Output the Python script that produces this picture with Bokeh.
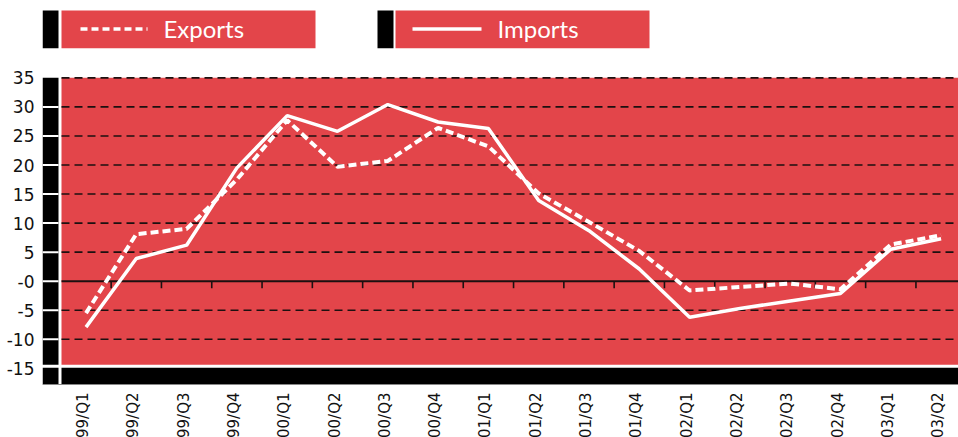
import math
from bokeh.plotting import figure
from bokeh.models import Range1d, FixedTicker
from bokeh.embed import file_html
from bokeh.resources import INLINE
from bokeh.core.properties import value

# ---------------- data ----------------
quarters = ["99/Q1", "99/Q2", "99/Q3", "99/Q4", "00/Q1", "00/Q2", "00/Q3", "00/Q4",
            "01/Q1", "01/Q2", "01/Q3", "01/Q4", "02/Q1", "02/Q2", "02/Q3", "02/Q4",
            "03/Q1", "03/Q2"]
exports = [-5.5, 8.1, 9.0, 17.5, 27.7, 19.7, 20.7, 26.4, 23.2, 15.1, 10.2, 5.2,
           -1.6, -1.0, -0.4, -1.4, 6.3, 7.9]
imports = [-7.9, 3.9, 6.2, 19.5, 28.5, 25.8, 30.4, 27.4, 26.3, 13.9, 8.7, 2.1,
           -6.2, -4.7, -3.4, -2.1, 5.5, 7.3]
series_names = ["Exports", "Imports"]
y_ticks = [35, 30, 25, 20, 15, 10, 5, 0, -5, -10, -15]
y_tick_labels = ["35", "30", "25", "20", "15", "10", "5", "-0", "-5", "-10", "-15"]

RED = "#E3454A"
GRID = "#1c1010"

# ---------------- geometry (pixel <-> data helpers) ----------------
W, H = 958, 437
LEFT = 42                      # frame left edge in pixels
PX = 50.3                      # pixels per quarter
x_start = -(85.5 - LEFT) / PX
x_end = x_start + (W - LEFT) / PX
PY = 5.81                      # pixels per unit
Y0 = 280.7                     # pixel row of value 0
y_end = Y0 / PY
y_start = (Y0 - H) / PY


def fx(px):
    return x_start + (px - LEFT) / PX


def fy(py):
    return (Y0 - py) / PY


red_left = fx(61)
bar_right = fx(58)
red_bottom = fy(364.3)
black_top = fy(367.3)
black_bottom = fy(384)

p = figure(width=W, height=H, x_range=Range1d(x_start, x_end),
           y_range=Range1d(y_start, y_end), output_backend="svg", toolbar_location=None,
           x_axis_location=None,
           min_border_left=LEFT, min_border_right=0, min_border_top=0, min_border_bottom=0)
p.outline_line_color = None
p.grid.visible = False
p.background_fill_color = "white"
p.border_fill_color = "white"

# ---------------- legend boxes ----------------
p.quad(left=[fx(42), fx(377)], right=[fx(58), fx(393)], top=[fy(10), fy(10)],
       bottom=[fy(47.7), fy(47.7)], fill_color="black", line_color=None)
p.quad(left=[fx(61), fx(395)], right=[fx(315), fx(649)], top=[fy(10), fy(10)],
       bottom=[fy(47.7), fy(47.7)], fill_color=RED, line_color=None)
p.line(x=[fx(80), fx(147)], y=[fy(28.5), fy(28.5)], line_color="white", line_width=3.5,
       line_dash="7 4")
p.line(x=[fx(412), fx(481)], y=[fy(28.5), fy(28.5)], line_color="white", line_width=3.5)
p.text(x=[fx(163), fx(497)], y=[fy(28.3), fy(28.3)], text=series_names,
       text_font=value("Lato"), text_font_size="24px", text_color="white",
       text_baseline="alphabetic")

# ---------------- panel ----------------
p.quad(left=[red_left], right=[x_end], bottom=[red_bottom], top=[35],
       fill_color=RED, line_color=None)
p.quad(left=[red_left], right=[x_end], bottom=[black_bottom], top=[black_top],
       fill_color="black", line_color=None)
p.quad(left=[x_start, x_start], right=[bar_right, bar_right],
       bottom=[red_bottom, black_bottom], top=[35, black_top],
       fill_color="black", line_color=None)
p.segment(x0=[x_start], x1=[x_end], y0=[black_bottom], y1=[black_bottom],
          line_color="#888888", line_width=1)

# white ticks across the left bar
wt = [t for t in y_ticks if -15 < t < 35]
p.segment(x0=[x_start] * len(wt), x1=[bar_right] * len(wt), y0=wt, y1=wt,
          line_color="white", line_width=2)

# dashed grid lines
gl = [t for t in y_ticks if t != 0 and t > -15]
p.segment(x0=[red_left] * len(gl), x1=[x_end] * len(gl), y0=gl, y1=gl,
          line_color=GRID, line_width=1.6, line_dash="8 5")
# zero line and its ticks
p.segment(x0=[red_left], x1=[x_end], y0=[0], y1=[0], line_color=GRID, line_width=2)
bx = [i + 0.5 for i in range(len(quarters) - 1)]
p.segment(x0=bx, x1=bx, y0=[0] * len(bx), y1=[fy(Y0 + 7)] * len(bx),
          line_color=GRID, line_width=1.6)

# ---------------- series ----------------
xs = list(range(len(quarters)))
p.line(x=xs, y=exports, line_color="white", line_width=4, line_dash="8 4")
p.line(x=xs, y=imports, line_color="white", line_width=3.5)

# ---------------- category labels (rotated) ----------------
p.text(x=[i - 3 / PX for i in xs], y=[fy(392)] * len(xs), text=quarters, angle=math.pi / 2,
       text_align="right", text_baseline="middle", text_font=value("DejaVu Sans"),
       text_font_size="15px", text_color="#111111")

# ---------------- y axis ----------------
p.yaxis.ticker = FixedTicker(ticks=y_ticks)
p.yaxis.major_label_overrides = {t: l for t, l in zip(y_ticks, y_tick_labels)}
p.yaxis.axis_line_color = None
p.yaxis.major_tick_line_color = None
p.yaxis.minor_tick_line_color = None
p.yaxis.major_tick_in = 0
p.yaxis.major_tick_out = 0
p.yaxis.major_label_standoff = 8
p.yaxis.major_label_text_font = "DejaVu Sans"
p.yaxis.major_label_text_font_size = "17px"
p.yaxis.major_label_text_color = "#111111"

open("out.html", "w").write(file_html(p, INLINE))
